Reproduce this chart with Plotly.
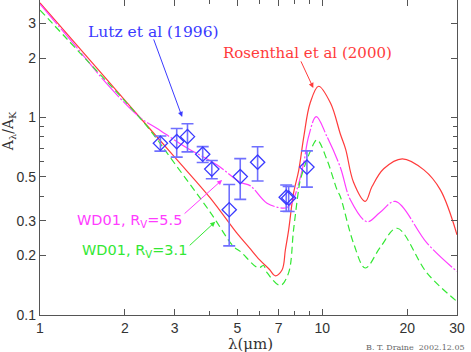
import plotly.graph_objects as go
import math

# Rosenthal et al (2000)
ros_lam = [1.0, 1.5, 2.0, 3.0, 4.0, 5.0, 5.5, 6.0, 6.5, 6.8, 7.2, 7.4, 7.6, 7.9, 8.25, 8.6, 9.05,
           9.7, 10.7, 11.6, 12.1, 12.9, 14.2, 15.0, 16.5, 19.2, 22.9, 26.2, 30.0]
ros_ext = [3.81, 1.96, 1.22, 0.63, 0.393, 0.258, 0.22, 0.19, 0.17, 0.158, 0.169, 0.214, 0.27, 0.41, 0.54,
           0.80, 1.18, 1.44, 1.18, 0.82, 0.69, 0.47, 0.376, 0.447, 0.55, 0.618, 0.543, 0.43, 0.255]

# WD01 R_V = 5.5
wd55_lam = [1.0, 1.31, 1.72, 2.26, 2.6, 3.22, 4.23, 5.12, 5.55, 6.37, 7.2, 7.5, 7.8, 8.2, 8.59, 8.94,
            9.52, 10.39, 11.58, 12.57, 14.4, 16.0, 18.15, 23.5, 30.0]
wd55_ext = [3.75, 2.38, 1.49, 1.0, 0.88, 0.72, 0.576, 0.47, 0.452, 0.368, 0.348, 0.35, 0.37, 0.45, 0.587, 0.80,
            1.01, 0.80, 0.56, 0.383, 0.297, 0.33, 0.376, 0.231, 0.166]

# WD01 R_V = 3.1
wd31_lam = [1.0, 1.5, 2.0, 2.45, 3.0, 4.0, 4.85, 5.12, 5.94, 6.19, 6.37, 7.1, 7.59, 7.91, 8.24, 8.35,
            9.06, 9.58, 10.39, 11.28, 11.58, 12.9, 14.2, 16.1, 18.4, 23.5, 30.0]
wd31_ext = [3.5, 1.88, 1.21, 0.866, 0.585, 0.333, 0.222, 0.21, 0.173, 0.178, 0.164, 0.141, 0.163, 0.27, 0.43, 0.48,
            0.672, 0.77, 0.61, 0.43, 0.398, 0.231, 0.173, 0.222, 0.275, 0.163, 0.117]

# Lutz et al (1996)
lutz_lam = [2.67, 3.05, 3.33, 3.77, 4.06, 4.68, 5.12, 5.90, 7.45, 7.60, 8.82]
lutz_ext = [0.741, 0.755, 0.80, 0.652, 0.548, 0.341, 0.502, 0.594, 0.395, 0.391, 0.561]
lutz_err = [0.065, 0.125, 0.13, 0.06, 0.058, 0.117, 0.117, 0.117, 0.06, 0.057, 0.117]

x_ticks = [1, 2, 3, 5, 7, 10, 20, 30]
x_minor = [4, 6, 8, 9]
y_ticks = [0.1, 0.2, 0.3, 0.5, 1, 2, 3]
y_minor = [0.4, 0.6, 0.7, 0.8, 0.9]

fig = go.Figure()

fig.add_trace(go.Scatter(x=ros_lam, y=ros_ext, mode='lines', line_shape='spline',
                         line=dict(color='#ff3b3b', width=1.2)))
fig.add_trace(go.Scatter(x=wd55_lam, y=wd55_ext, mode='lines', line_shape='spline',
                         line=dict(color='#ff3cff', width=1.2, dash='26px,2px,2px,2px')))
fig.add_trace(go.Scatter(x=wd31_lam, y=wd31_ext, mode='lines', line_shape='spline',
                         line=dict(color='#33e833', width=1.2, dash='7px,4px')))
fig.add_trace(go.Scatter(x=lutz_lam, y=lutz_ext, mode='markers',
                         marker=dict(symbol='diamond-open', size=11, color='#3a3aff',
                                     line=dict(width=1.3)),
                         error_y=dict(type='data', array=lutz_err, color='#7070ff',
                                      thickness=1.6, width=6)))

axis_common = dict(type='log', showline=True, linecolor='#555555', linewidth=1.3, mirror='ticks',
                   ticks='inside', ticklen=6, tickwidth=1, tickcolor='#555555',
                   showgrid=False, zeroline=False, automargin=False,
                   tickfont=dict(family='Liberation Sans', size=14, color='#333333'))

fig.update_xaxes(range=[0, math.log10(30)], tickvals=x_ticks, ticktext=[str(v) for v in x_ticks],
                 minor=dict(tickvals=x_minor, ticks='inside', ticklen=4, tickcolor='#555555'),
                 **axis_common)
fig.update_yaxes(range=[-1, 0.595], tickvals=y_ticks, ticktext=[str(v) for v in y_ticks],
                 minor=dict(tickvals=y_minor, ticks='inside', ticklen=4, tickcolor='#555555'),
                 **axis_common)

serif = 'DejaVu Serif'
sans = 'DejaVu Sans'
annotations = [
    dict(x=0.4007, y=0.433, text='Lutz et al (1996)', showarrow=False,
         font=dict(family=serif, size=15.5, color='#3a3aff')),
    dict(x=0.9486, y=0.327, text='Rosenthal et al (2000)', showarrow=False,
         font=dict(family=serif, size=15, color='#ff3b3b')),
    dict(x=0.3156, y=-0.523, text='WD01, R<sub>V</sub>=5.5', showarrow=False,
         font=dict(family=sans, size=14.5, color='#ff3cff')),
    dict(x=0.3333, y=-0.675, text='WD01, R<sub>V</sub>=3.1', showarrow=False,
         font=dict(family=sans, size=14.5, color='#33e833')),
    # arrows
    dict(x=0.5035, y=0.003, text='', showarrow=True, ax=-29, ay=-79, arrowhead=2,
         arrowsize=1, arrowwidth=1, arrowcolor='#3a3aff', standoff=0),
    dict(x=0.968, y=0.150, text='', showarrow=True, ax=-13, ay=-28, arrowhead=2,
         arrowsize=1, arrowwidth=1, arrowcolor='#ff3b3b', standoff=0),
    dict(x=0.645, y=-0.316, text='', showarrow=True, ax=-39, ay=35, arrowhead=2,
         arrowsize=1, arrowwidth=1, arrowcolor='#ff3cff', standoff=0),
    dict(x=0.6206, y=-0.528, text='', showarrow=True, ax=-27, ay=25, arrowhead=2,
         arrowsize=1, arrowwidth=1, arrowcolor='#33e833', standoff=0),
    # axis titles
    dict(xref='paper', yref='paper', x=0.505, y=-0.092, xanchor='center', yanchor='middle',
         text='λ(μm)', showarrow=False, font=dict(family=serif, size=15, color='#333333')),
    dict(xref='paper', yref='paper', x=-0.074, y=0.584, xanchor='center', yanchor='middle',
         text='A<sub>λ</sub>/A<sub>K</sub>', textangle=-90, showarrow=False,
         font=dict(family=serif, size=14, color='#333333')),
    dict(xref='paper', yref='paper', x=1.024, y=-0.1016, xanchor='right', yanchor='middle',
         text='B. T. Draine  2002.12.05', showarrow=False,
         font=dict(family=serif, size=8, color='#666666')),
]

fig.update_layout(width=471, height=352, margin=dict(l=40, r=14, t=0, b=37),
                  paper_bgcolor='white', plot_bgcolor='white', showlegend=False,
                  annotations=annotations)

fig.write_html("out.html", config={'displayModeBar': False},
               post_script="document.body.style.margin='0';")
